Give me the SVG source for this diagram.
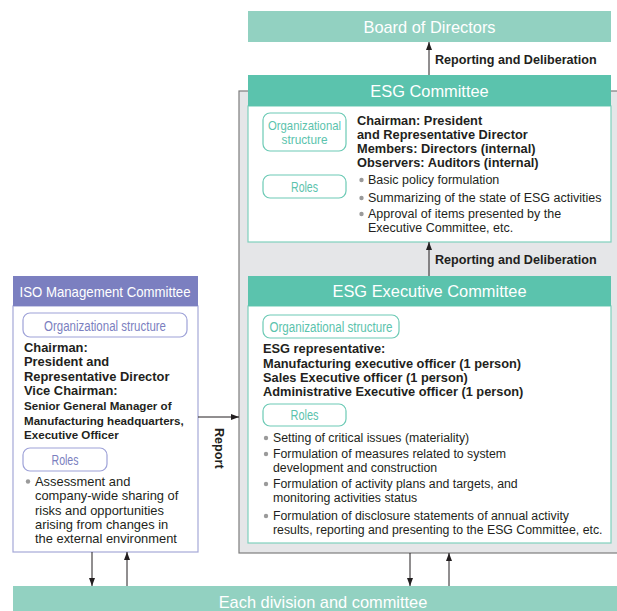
<svg xmlns="http://www.w3.org/2000/svg" width="617" height="611" viewBox="0 0 617 611">
  <defs>
    <marker id="arrow" viewBox="0 0 8 8" refX="8" refY="4" markerWidth="8" markerHeight="8" markerUnits="userSpaceOnUse" orient="auto">
      <path d="M0,1 L8,4 L0,7 Z" fill="#231f20"/>
    </marker>
    <style>
      .hdr { font-family: "Liberation Sans", Arial, sans-serif; font-size: 16.4px; fill: #ffffff; text-anchor: middle; }
      .bold { font-family: "Liberation Sans", Arial, sans-serif; font-size: 12.8px; font-weight: bold; fill: #231f20; }
      .reg { font-family: "Liberation Sans", Arial, sans-serif; font-size: 12.5px; fill: #231f20; }
      .lbl { font-family: "Liberation Sans", Arial, sans-serif; font-size: 12.6px; font-weight: bold; fill: #231f20; }
      .pillT { font-family: "Liberation Sans", Arial, sans-serif; font-size: 14px; fill: #5bc3ad; text-anchor: middle; }
      .pillP { font-family: "Liberation Sans", Arial, sans-serif; font-size: 14px; fill: #7b7fc0; text-anchor: middle; }
      .pillTeal { fill: #ffffff; stroke: #6ccab5; stroke-width: 1.2; }
      .pillPurple { fill: #ffffff; stroke: #9ea2d8; stroke-width: 1.2; }
      .dot { fill: #9a9a9a; }
      .conn { stroke: #231f20; stroke-width: 1; fill: none; marker-end: url(#arrow); }
    </style>
  </defs>

  <!-- grey panel holding both ESG committees -->
  <g id="esg-panel">
    <rect x="239" y="91" width="400" height="462" fill="#e5e6e8" stroke="#7d7d7d" stroke-width="1.2"/>
  </g>

  <!-- Board of Directors -->
  <g id="board">
    <rect x="248" y="11" width="363" height="31" fill="#92d1c1"/>
    <text class="hdr" x="429.5" y="33">Board of Directors</text>
  </g>

  <!-- ESG Committee -->
  <g id="esg-committee">
    <rect x="248" y="106" width="363" height="136" fill="#ffffff" stroke="#7fd0bd" stroke-width="1.2"/>
    <rect x="248" y="75" width="363" height="31" fill="#5bc3ad"/>
    <text class="hdr" x="429.5" y="97">ESG Committee</text>
    <rect class="pillTeal" x="263" y="113" width="83" height="38" rx="7"/>
    <text class="pillT" x="304.5" y="129.5" style="font-size:13px" textLength="73" lengthAdjust="spacingAndGlyphs">Organizational</text>
    <text class="pillT" x="304.5" y="144" style="font-size:13px" textLength="46" lengthAdjust="spacingAndGlyphs">structure</text>
    <rect class="pillTeal" x="263" y="175" width="83" height="23" rx="7"/>
    <text class="pillT" x="304.5" y="192" textLength="27" lengthAdjust="spacingAndGlyphs">Roles</text>
    <text class="bold" x="357" y="125">Chairman: President</text>
    <text class="bold" x="357" y="139">and Representative Director</text>
    <text class="bold" x="357" y="153">Members: Directors (internal)</text>
    <text class="bold" x="357" y="167">Observers: Auditors (internal)</text>
    <circle class="dot" cx="361.5" cy="180" r="2.2"/>
    <text class="reg" x="368" y="184">Basic policy formulation</text>
    <circle class="dot" cx="361.5" cy="198" r="2.2"/>
    <text class="reg" x="368" y="202">Summarizing of the state of ESG activities</text>
    <circle class="dot" cx="361.5" cy="214" r="2.2"/>
    <text class="reg" x="368" y="218">Approval of items presented by the</text>
    <text class="reg" x="368" y="232">Executive Committee, etc.</text>
  </g>

  <!-- ESG Executive Committee -->
  <g id="esg-executive">
    <rect x="248" y="306" width="363" height="237" fill="#ffffff" stroke="#7fd0bd" stroke-width="1.2"/>
    <rect x="248" y="276" width="363" height="30" fill="#5bc3ad"/>
    <text class="hdr" x="429.5" y="297">ESG Executive Committee</text>
    <rect class="pillTeal" x="263" y="315" width="136" height="23" rx="7"/>
    <text class="pillT" x="331" y="332" textLength="123" lengthAdjust="spacingAndGlyphs">Organizational structure</text>
    <text class="bold" x="263" y="353">ESG representative:</text>
    <text class="bold" x="263" y="367.5">Manufacturing executive officer (1 person)</text>
    <text class="bold" x="263" y="381.5">Sales Executive officer (1 person)</text>
    <text class="bold" x="263" y="396">Administrative Executive officer (1 person)</text>
    <rect class="pillTeal" x="263" y="404" width="83" height="22" rx="7"/>
    <text class="pillT" x="304.5" y="420" textLength="28" lengthAdjust="spacingAndGlyphs">Roles</text>
    <circle class="dot" cx="266" cy="438" r="2.2"/>
    <text class="reg" x="273" y="442" style="font-size:12.3px">Setting of critical issues (materiality)</text>
    <circle class="dot" cx="266" cy="454" r="2.2"/>
    <text class="reg" x="273" y="458" style="font-size:12.3px">Formulation of measures related to system</text>
    <text class="reg" x="273" y="472" style="font-size:12.3px">development and construction</text>
    <circle class="dot" cx="266" cy="484" r="2.2"/>
    <text class="reg" x="273" y="488" style="font-size:12.3px">Formulation of activity plans and targets, and</text>
    <text class="reg" x="273" y="502" style="font-size:12.3px">monitoring activities status</text>
    <circle class="dot" cx="266" cy="516" r="2.2"/>
    <text class="reg" x="273" y="520" style="font-size:12.3px">Formulation of disclosure statements of annual activity</text>
    <text class="reg" x="273" y="533.5" style="font-size:12.3px">results, reporting and presenting to the ESG Committee, etc.</text>
  </g>

  <!-- ISO Management Committee -->
  <g id="iso-committee">
    <rect x="13" y="306" width="185" height="246" fill="#ffffff" stroke="#a5a8d8" stroke-width="1.2"/>
    <rect x="13" y="276" width="185" height="30" fill="#7b7fc0"/>
    <text class="hdr" x="105" y="297" style="font-size:14.5px" textLength="171" lengthAdjust="spacingAndGlyphs">ISO Management Committee</text>
    <rect class="pillPurple" x="23" y="313" width="164" height="24" rx="7"/>
    <text class="pillP" x="105" y="331" textLength="122" lengthAdjust="spacingAndGlyphs">Organizational structure</text>
    <text class="bold" x="24" y="352" style="font-size:12.9px">Chairman:</text>
    <text class="bold" x="24" y="366" style="font-size:12.9px">President and</text>
    <text class="bold" x="24" y="381" style="font-size:12.9px">Representative Director</text>
    <text class="bold" x="24" y="394.5" style="font-size:12.9px">Vice Chairman:</text>
    <text class="bold" x="24" y="410" style="font-size:11.6px">Senior General Manager of</text>
    <text class="bold" x="24" y="425" style="font-size:11.6px">Manufacturing headquarters,</text>
    <text class="bold" x="24" y="438.5" style="font-size:11.6px">Executive Officer</text>
    <rect class="pillPurple" x="23" y="448" width="84" height="23" rx="7"/>
    <text class="pillP" x="65" y="464.5" textLength="27" lengthAdjust="spacingAndGlyphs">Roles</text>
    <circle class="dot" cx="28" cy="481.5" r="2.2"/>
    <text class="reg" x="35" y="486" style="font-size:12.9px">Assessment and</text>
    <text class="reg" x="35" y="500" style="font-size:12.9px">company-wide sharing of</text>
    <text class="reg" x="35" y="514.5" style="font-size:12.9px">risks and opportunities</text>
    <text class="reg" x="35" y="529" style="font-size:12.9px">arising from changes in</text>
    <text class="reg" x="35" y="543" style="font-size:12.9px">the external environment</text>
  </g>

  <!-- Each division and committee -->
  <g id="divisions">
    <rect x="13" y="586" width="610" height="30" fill="#92d1c1"/>
    <text class="hdr" x="323" y="608">Each division and committee</text>
  </g>

  <!-- connectors -->
  <g id="connectors">
    <line class="conn" x1="429" y1="75" x2="429" y2="42"/>
    <text class="lbl" x="435" y="64">Reporting and Deliberation</text>
    <line class="conn" x1="429" y1="276" x2="429" y2="242"/>
    <text class="lbl" x="435" y="264">Reporting and Deliberation</text>
    <line class="conn" x1="198" y1="417" x2="239" y2="417"/>
    <text class="lbl" x="0" y="0" transform="translate(215,428) rotate(90)">Report</text>
    <line class="conn" x1="92" y1="552" x2="92" y2="586"/>
    <line class="conn" x1="127" y1="586" x2="127" y2="552"/>
    <line class="conn" x1="410" y1="553" x2="410" y2="586"/>
    <line class="conn" x1="449" y1="586" x2="449" y2="553"/>
  </g>
</svg>
